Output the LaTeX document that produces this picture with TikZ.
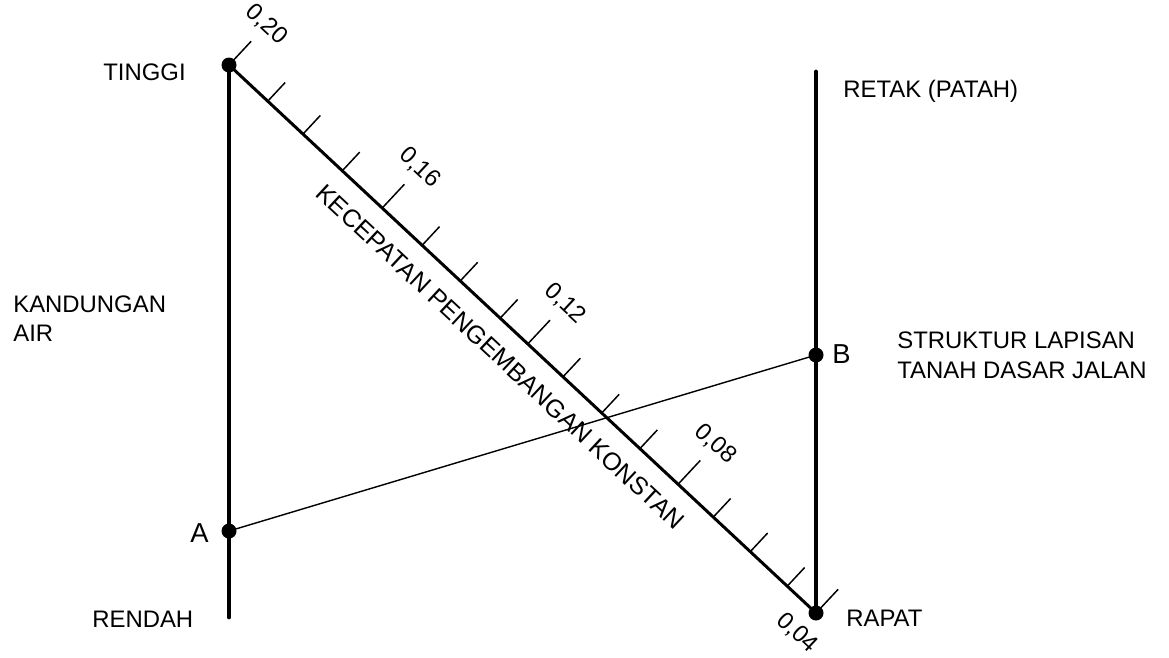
\documentclass[tikz,border=0pt]{standalone}
\usepackage{fontspec}
\setmainfont{Liberation Sans}
\usetikzlibrary{calc}
\tikzset{
    vline/.style={line width=2.8pt, line cap=round},
    scaleline/.style={line width=1.7pt},
    thinline/.style={line width=0.8pt},
    tick/.style={line width=0.85pt},
    dot/.style={circle, fill=black, inner sep=0pt, minimum size=0.3cm},
    lbl/.style={font=\fontsize{13.6}{17}\selectfont, inner sep=0pt},
    biglbl/.style={font=\fontsize{15.6}{18}\selectfont, inner sep=0pt},
}

\begin{document}
\begin{tikzpicture}[x=0.02cm, y=-0.02cm]
    \useasboundingbox (0,0) rectangle (1169,657);

    % Points
    \node[dot] (tinggi) at (229,65) {};
    \node[dot] (A) at (229,531) {};
    \coordinate (rendah) at (229,617);
    \coordinate (retak) at (816,72);
    \node[dot] (B) at (816,355) {};
    \node[dot] (rapat) at (816,613) {};
    \coordinate (ext) at ($(tinggi)!2!(rapat)$);

    % Scales
    \draw[vline] (tinggi.center) -- (rendah);
    \draw[vline] (retak) -- (rapat.center);
    \draw[scaleline] (tinggi.center) -- (rapat.center);
    \draw[thinline] (A.center) -- (B.center);

    % Ticks
    \foreach \t in {0.066,0.126,0.193,0.329,0.394,0.462,0.569,0.635,0.700,0.825,0.888,0.951}
        \draw[tick] ($(tinggi)!\t!(rapat)$) -- ($(tinggi)!\t!(rapat)!0.51cm!90:(ext)$);
    \foreach \t/\v in {0/{0,20},0.261/{0,16},0.509/{0,12},0.765/{0,08}}
    {
        \draw[tick] ($(tinggi)!\t!(rapat)$) -- ($(tinggi)!\t!(rapat)!0.65cm!90:(ext)$);
        \node[lbl, rotate=-43] at ($(tinggi)!\t!(rapat)!1.1cm!90:(ext)$) {\v};
    }
    \draw[tick] (rapat.center) -- ($(rapat)!0.65cm!-90:(tinggi)$);
    \node[lbl, rotate=-43] (v04) at ($(rapat)!0.55cm!90:(tinggi)$) {0,04};

    % Scale title
    \node[lbl, font=\fontsize{14.2}{17}\selectfont, rotate=-43] (judul) at ($(tinggi)!0.495!(rapat)!0.56cm!-90:(ext)$) {KECEPATAN PENGEMBANGAN KONSTAN};

    % Labels
    \node[lbl, anchor=base west] (tinggiTxt) at (103,80) {TINGGI};
    \node[lbl, anchor=base west] (rendahTxt) at (92,627) {RENDAH};
    \node[lbl, anchor=north west, align=left] (airTxt) at (13,295) {KANDUNGAN\\AIR};
    \node[biglbl, anchor=base west] (aTxt) at (190,542) {A};
    \node[biglbl, anchor=base west] (bTxt) at (832,363) {B};
    \node[lbl, anchor=base west] (retakTxt) at (843,97) {RETAK (PATAH)};
    \node[lbl, anchor=north west, align=left] (tanahTxt) at (897,331.5) {STRUKTUR LAPISAN\\TANAH DASAR JALAN};
    \node[lbl, anchor=base west] (rapatTxt) at (846,626) {RAPAT};
\end{tikzpicture}
\end{document}
